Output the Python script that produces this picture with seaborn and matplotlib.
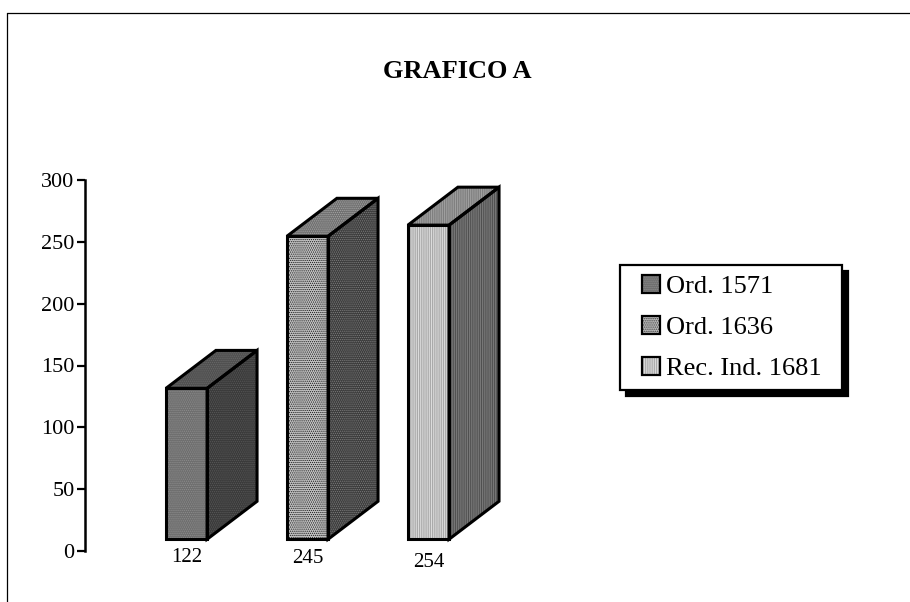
# -*- coding: utf-8 -*-
"""
GRAFICO A - pseudo 3D bars built on a seaborn barplot
"""

import matplotlib
matplotlib.use("Agg")
import matplotlib.pyplot as plt
from matplotlib.legend_handler import HandlerBase
from matplotlib.lines import Line2D
from matplotlib.patches import Rectangle
import pandas as pd
import seaborn as sns

# --- Data ---
normas = ["Ord. 1571", "Ord. 1636", "Rec. Ind. 1681"]
articulos = [122, 245, 254]
y_ticks = [0, 50, 100, 150, 200, 250, 300]

# --- Style of each bar ---
front_colors = ["#6e6e6e", "#c4c4c4", "#dcdcdc"]
front_hatch_colors = ["#8c8c8c", "#1a1a1a", "#a0a0a0"]
side_colors = ["#3a3a3a", "#3c3c3c", "#505050"]
side_hatch_colors = ["#585858", "#7c7c7c", "#808080"]
top_colors = ["#505050", "#707070", "#a0a0a0"]
top_hatch_colors = ["#686868", "#a4a4a4", "#787878"]
hatches = ["........", "........", "|||||||||"]
label_offsets = [-6, -7, -10]

BASE = 9.5  # the bars float a little above the zero line
DEPTH_X = 0.413
DEPTH_Y = 30.7
BAR_WIDTH = 0.34
EDGE_LW = 2.2


class SquareHandler(HandlerBase):
    """Small hatched square at the right end of the handle box."""

    def create_artists(self, legend, orig_handle, xdescent, ydescent,
                       width, height, fontsize, trans):
        size = 18 * 0.72
        x0 = width - xdescent - size
        y0 = height / 2 - size / 2 - ydescent
        fill = Rectangle((x0, y0), size, size, transform=trans,
                         facecolor=orig_handle.get_facecolor(),
                         edgecolor=orig_handle.get_edgecolor(),
                         hatch=orig_handle.get_hatch(), linewidth=0)
        frame = Rectangle((x0, y0), size, size, transform=trans, fill=False,
                          edgecolor="black", linewidth=1.6)
        return [fill, frame]


sns.set_theme(style="white")
plt.rcParams["font.family"] = ["Liberation Serif", "DejaVu Serif"]
plt.rcParams["hatch.linewidth"] = 0.6

fig = plt.figure(figsize=(9.1, 6.02), dpi=100)
W, H = 910, 602
ax = fig.add_axes([85 / W, 1 - 551 / H, 430 / W, 371 / H])

df = pd.DataFrame({"norma": normas, "articulos": articulos})
sns.barplot(
    data=df, x="norma", y="articulos", hue="norma", dodge=False,
    palette=front_colors, width=BAR_WIDTH, bottom=BASE, errorbar=None,
    linewidth=0, legend=False, ax=ax, zorder=3,
)

# Side and top faces, with the hatch of the front face
handles = []
for i, (container, value) in enumerate(zip(ax.containers, articulos)):
    bar = container[0]
    bar.set_hatch(hatches[i])
    bar.set_edgecolor(front_hatch_colors[i])
    handles.append(Rectangle((0, 0), 1, 1, facecolor=front_colors[i],
                             edgecolor=front_hatch_colors[i], hatch=hatches[i]))

    left = i - BAR_WIDTH / 2
    right = i + BAR_WIDTH / 2
    top = BASE + value
    side_x = [right, right + DEPTH_X, right + DEPTH_X, right]
    side_y = [BASE, BASE + DEPTH_Y, top + DEPTH_Y, top]
    top_x = [left, left + DEPTH_X, right + DEPTH_X, right]
    top_y = [top, top + DEPTH_Y, top + DEPTH_Y, top]

    ax.fill(side_x, side_y, facecolor=side_colors[i],
            edgecolor=side_hatch_colors[i], linewidth=0, hatch=hatches[i], zorder=2)
    ax.fill(top_x, top_y, facecolor=top_colors[i],
            edgecolor=top_hatch_colors[i], linewidth=0, hatch=hatches[i], zorder=2)

    # outlines on top, the hatch colour would otherwise tint them
    ax.fill(side_x, side_y, fill=False, edgecolor="black", linewidth=EDGE_LW, zorder=4)
    ax.fill(top_x, top_y, fill=False, edgecolor="black", linewidth=EDGE_LW, zorder=4)
    ax.fill([left, right, right, left], [BASE, BASE, top, top], fill=False,
            edgecolor="black", linewidth=EDGE_LW, zorder=4)

    ax.annotate(str(value), (i, BASE), xytext=(0, label_offsets[i]),
                textcoords="offset points", ha="center", va="top",
                fontsize=15, color="black", annotation_clip=False)

ax.set_xlim(-0.839, 2.715)
ax.set_ylim(0, 300)
ax.set_yticks(y_ticks)
ax.set_xticks([])
ax.set_xlabel("")
ax.set_ylabel("")
ax.patch.set_alpha(0)
ax.tick_params(axis="y", direction="out", length=5.5, width=1.6, pad=2,
               labelsize=16, color="black", labelcolor="black", left=True)
sns.despine(ax=ax, top=True, right=True, bottom=True)
ax.spines["left"].set_linewidth(1.8)
ax.spines["left"].set_color("black")

# Legend with a solid drop shadow
legend = fig.legend(
    handles, normas, loc="upper left", mode="expand",
    bbox_to_anchor=(620 / W, 1 - 390 / H, 222 / W, 125 / H), fontsize=19,
    frameon=True, fancybox=False, facecolor="white", edgecolor="black",
    framealpha=1, borderpad=0.36, labelspacing=0.67, handlelength=1.17,
    handletextpad=0.22, borderaxespad=0, labelcolor="black",
    handler_map={Rectangle: SquareHandler()},
    shadow={"ox": 4.5, "oy": -4.5, "color": "black", "alpha": 1},
)
legend.get_frame().set_linewidth(1.6)

fig.text(457 / W, 1 - 71 / H, "GRAFICO A", ha="center", va="center",
         fontsize=19, fontweight="bold", color="black")

# Frame of the original page, only left and top survive
fig.add_artist(Line2D([7 / W, 7 / W], [0, 1 - 13 / H], color="black", linewidth=0.9))
fig.add_artist(Line2D([7 / W, 1], [1 - 13 / H, 1 - 13 / H], color="black", linewidth=0.9))

fig.savefig("out.png", dpi=100)
